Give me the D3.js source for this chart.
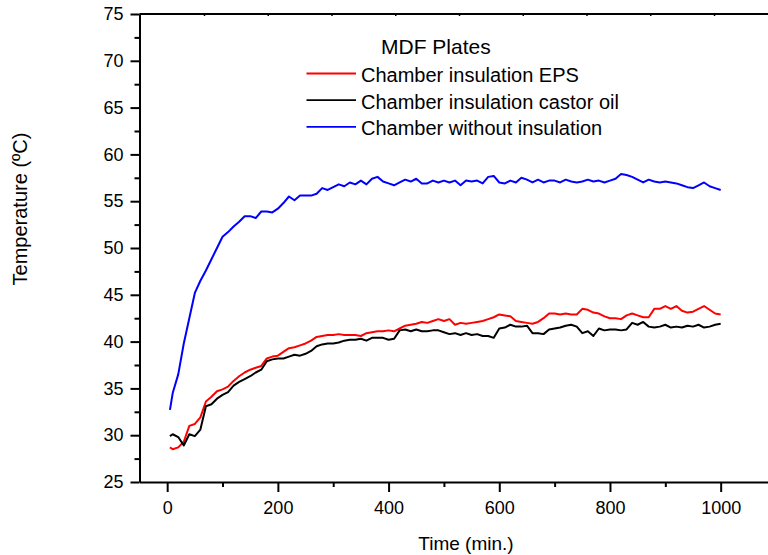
<!DOCTYPE html>
<html><head><meta charset="utf-8">
<script src="https://cdn.jsdelivr.net/npm/d3@7"></script>
<style>body{margin:0;background:#fff}svg{display:block;font-family:Arial,"Liberation Sans",sans-serif}</style>
</head><body>
<svg id="c" width="768" height="555"></svg>
<script>
const times = [5,10,20,30,40,50,60,70,80,90,100,110,120,130,140,150,160,170,180,190,200,210,220,230,240,250,260,270,280,290,300,310,320,330,340,350,360,370,380,390,400,410,420,430,440,450,460,470,480,490,500,510,520,530,540,550,560,570,580,590,600,610,620,630,640,650,660,670,680,690,700,710,720,730,740,750,760,770,780,790,800,810,820,830,840,850,860,870,880,890,900,910,920,930,940,950,960,970,980,990,1000];
const eps = [28.7,28.5,28.7,29.3,31.0,31.2,31.9,33.6,34.1,34.7,34.9,35.2,35.8,36.3,36.7,37.0,37.2,37.4,38.2,38.4,38.5,38.9,39.3,39.4,39.6,39.8,40.1,40.5,40.6,40.7,40.7,40.8,40.7,40.7,40.7,40.6,40.9,41.0,41.1,41.1,41.2,41.1,41.4,41.7,41.8,41.9,42.1,42.0,42.2,42.4,42.2,42.4,41.8,42.0,41.9,42.0,42.1,42.2,42.4,42.6,42.9,42.8,42.7,42.2,42.1,42.0,41.9,42.1,42.5,43.0,43.0,42.9,43.0,42.9,42.9,43.5,43.4,43.1,43.0,42.7,42.5,42.5,42.4,42.8,43.0,42.8,42.6,42.6,43.5,43.5,43.8,43.5,43.8,43.3,43.1,43.2,43.5,43.8,43.4,43.0,42.9];
const castor = [29.9,30.1,29.8,28.9,30.1,29.9,30.6,33.1,33.3,33.9,34.3,34.6,35.3,35.7,36.0,36.3,36.7,37.0,37.9,38.1,38.2,38.2,38.4,38.6,38.5,38.7,39.0,39.5,39.7,39.8,39.8,39.9,40.1,40.2,40.2,40.3,40.1,40.4,40.4,40.4,40.2,40.3,41.2,41.3,41.1,41.3,41.1,41.1,41.2,41.2,41.0,40.8,40.9,40.7,40.9,40.7,40.8,40.6,40.6,40.4,41.4,41.5,41.8,41.6,41.6,41.7,40.9,40.9,40.8,41.3,41.4,41.5,41.7,41.8,41.6,40.9,41.1,40.6,41.4,41.2,41.3,41.3,41.2,41.3,42.0,41.8,42.1,41.6,41.5,41.6,41.8,41.5,41.6,41.5,41.7,41.6,41.8,41.5,41.6,41.8,41.9];
const noIns = [32.7,34.5,36.5,39.8,42.5,45.2,46.5,47.6,48.8,50.0,51.2,51.7,52.3,52.8,53.4,53.4,53.2,53.9,53.9,53.8,54.2,54.8,55.5,55.1,55.6,55.6,55.6,55.8,56.4,56.2,56.5,56.8,56.6,57.0,56.8,57.2,56.8,57.4,57.6,57.1,56.9,56.7,57.0,57.3,57.1,57.4,56.9,56.9,57.2,57.0,57.2,57.0,57.2,56.7,57.2,57.1,57.2,56.9,57.6,57.7,57.0,56.9,57.2,57.0,57.5,57.3,57.0,57.3,57.0,57.2,57.2,57.0,57.3,57.1,57.0,57.1,57.3,57.1,57.2,57.0,57.2,57.4,57.9,57.8,57.6,57.3,57.0,57.3,57.1,57.0,57.1,57.0,56.9,56.7,56.5,56.4,56.7,57.0,56.6,56.4,56.2];
const seriesNames = ["Chamber insulation EPS","Chamber insulation castor oil","Chamber without insulation"];
const seriesColors = ["#ff0000","#000000","#0000ff"];
const xTicks = [0,200,400,600,800,1000];
const yTicks = [25,30,35,40,45,50,55,60,65,70,75];
const legendTitle = "MDF Plates";
const xTitle = "Time (min.)";
const yTitle = "Temperature (\u00BAC)";

const svg = d3.select("#c");
const x = d3.scaleLinear().domain([-50, 1100]).range([139.5, 139.5 + 1150 * 0.5535]);
const y = d3.scaleLinear().domain([25, 75]).range([482, 14]);
const FONT = "Arial, 'Liberation Sans', sans-serif";

// axes
const xMinor = d3.range(0, 1001, 100).filter(v => v % 200 !== 0);
svg.append("g").attr("transform", "translate(0,482)")
  .call(d3.axisBottom(x).tickValues(xMinor).tickSize(5).tickFormat(""))
  .call(g => g.select(".domain").remove())
  .call(g => g.selectAll("line").attr("stroke-width", 2));
const gx = svg.append("g").attr("transform", "translate(0,482)")
  .call(d3.axisBottom(x).tickValues(xTicks).tickSize(10).tickSizeOuter(0).tickPadding(9).tickFormat(d3.format("d")));
gx.select(".domain").attr("stroke-width", 2);
gx.selectAll("line").attr("stroke-width", 2);
gx.selectAll("text").attr("font-size", 18).attr("fill", "#000").attr("font-family", FONT);

const yMinor = d3.range(27.5, 75, 5);
svg.append("g").attr("transform", "translate(139.5,0)")
  .call(d3.axisLeft(y).tickValues(yMinor).tickSize(5).tickFormat(""))
  .call(g => g.select(".domain").remove())
  .call(g => g.selectAll("line").attr("stroke-width", 2));
const gy = svg.append("g").attr("transform", "translate(139.5,0)")
  .call(d3.axisLeft(y).tickValues(yTicks).tickSize(9).tickSizeOuter(0).tickPadding(7));
gy.select(".domain").attr("stroke-width", 2);
gy.selectAll("line").attr("stroke-width", 2);
gy.selectAll("text").attr("font-size", 18).attr("fill", "#000").attr("font-family", FONT);

// top frame line with tiny ticks
const topScale = d3.scaleLinear().domain([0, 8]).range([204, 714]);
const gt = svg.append("g").attr("transform", "translate(0,14)")
  .call(d3.axisTop(topScale).tickValues(d3.range(0, 9)).tickSize(-2).tickFormat(""));
gt.select(".domain").remove();
gt.selectAll("line").attr("stroke-width", 1.5);
svg.append("line").attr("x1", x(-50)).attr("x2", 768).attr("y1", y(75)).attr("y2", y(75))
  .attr("stroke", "#000").attr("stroke-width", 2);

// lines
const allSeries = [eps, castor, noIns];
const line = d3.line().x((d, i) => x(times[i])).y(d => y(d));
allSeries.forEach((s, k) => {
  svg.append("path").datum(s).attr("d", line).attr("fill", "none")
    .attr("stroke", seriesColors[k]).attr("stroke-width", 2).attr("stroke-linejoin", "round");
});

// legend
svg.append("text").attr("x", 381).attr("y", 54).attr("font-size", 21).text(legendTitle);
seriesNames.forEach((n, k) => {
  const ly = 73.5 + k * 26.7;
  svg.append("line").attr("x1", 306.5).attr("x2", 356).attr("y1", ly).attr("y2", ly)
    .attr("stroke", seriesColors[k]).attr("stroke-width", 1.8);
  svg.append("text").attr("x", 361).attr("y", ly + 8.5).attr("font-size", 20).text(n);
});

// titles
svg.append("text").attr("x", 466).attr("y", 550).attr("text-anchor", "middle").attr("font-size", 19).text(xTitle);
svg.append("text").attr("transform", "translate(27,209) rotate(-90)").attr("text-anchor", "middle").attr("font-size", 20).text(yTitle);
</script>
</body></html>
